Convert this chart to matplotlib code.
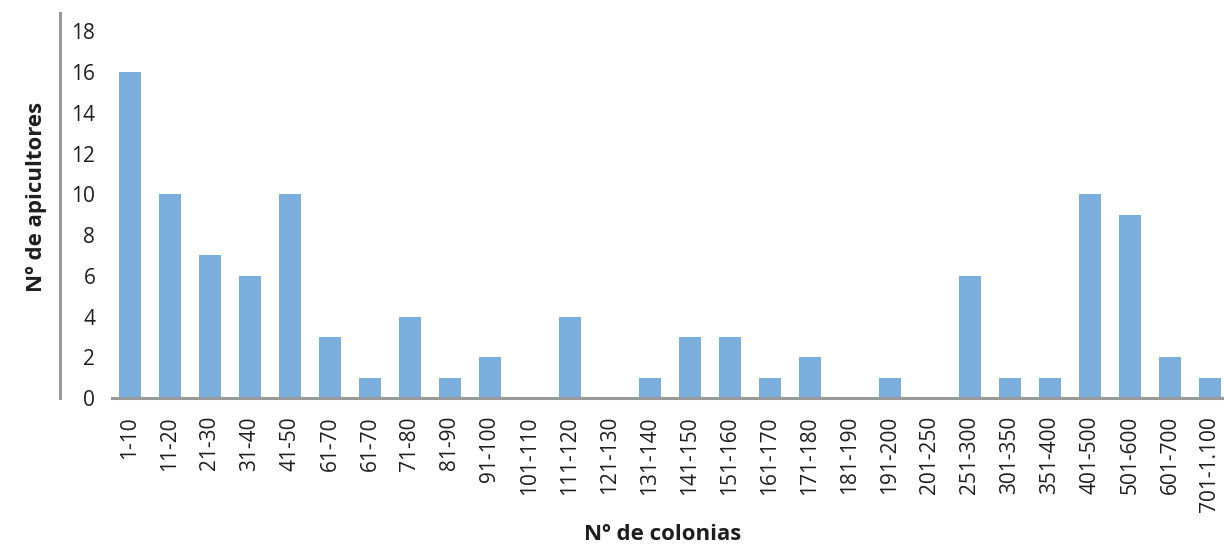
import matplotlib
matplotlib.use("Agg")
import matplotlib.pyplot as plt
from matplotlib.lines import Line2D
from matplotlib.transforms import blended_transform_factory

plt.rcParams['font.family'] = ['Open Sans', 'DejaVu Sans']

categories = ["1-10", "11-20", "21-30", "31-40", "41-50", "61-70", "61-70",
              "71-80", "81-90", "91-100", "101-110", "111-120", "121-130",
              "131-140", "141-150", "151-160", "161-170", "171-180",
              "181-190", "191-200", "201-250", "251-300", "301-350",
              "351-400", "401-500", "501-600", "601-700", "701-1.100"]
apicultores = [16, 10, 7, 6, 10, 3, 1, 4, 1, 2, 0, 4, 0, 1, 3, 3, 1, 2, 0,
               1, 0, 6, 1, 1, 10, 9, 2, 1]
y_ticks = [0, 2, 4, 6, 8, 10, 12, 14, 16, 18]

W, H = 1224, 547
fig = plt.figure(figsize=(W / 100, H / 100), dpi=100)
ax = fig.add_axes([112 / W, 149 / H, (W - 112) / W, (398 - 13) / H])

bar_color = "#7aaedd"
axis_gray = "#999999"
text_color = "#1e1e1e"

x = list(range(len(categories)))
ax.bar(x, apicultores, width=0.55, color=bar_color, zorder=2)

ax.set_xlim(-0.45, 27.35)
ax.set_ylim(0, 18.9)

ax.set_yticks(y_ticks)
ax.set_yticklabels([str(v) for v in y_ticks])
ax.set_xticks(x)
ax.set_xticklabels(categories, rotation=90, va="top", ha="center")

ax.tick_params(axis="both", length=0, labelsize=15, colors=text_color)
ax.tick_params(axis="y", pad=12)
ax.tick_params(axis="x", pad=13)

for side in ("top", "right", "left"):
    ax.spines[side].set_visible(False)
ax.spines["bottom"].set_color(axis_gray)
ax.spines["bottom"].set_linewidth(2.2)
ax.spines["bottom"].set_zorder(3)

# detached vertical axis line to the left of the tick labels
tr = blended_transform_factory(fig.transFigure, ax.transAxes)
fig.add_artist(Line2D([60 / W, 60 / W], [0, 1], transform=tr,
                      color=axis_gray, linewidth=2.2))

fig.text(37 / W, 1 - 197 / H, "Nº de apicultores", rotation=90,
         ha="center", va="center", fontsize=16, fontweight="bold",
         color=text_color)
fig.text(663 / W, 1 - 535 / H, "Nº de colonias", ha="center", va="center",
         fontsize=16, fontweight="bold", color=text_color)

fig.savefig("out.png", dpi=100)
